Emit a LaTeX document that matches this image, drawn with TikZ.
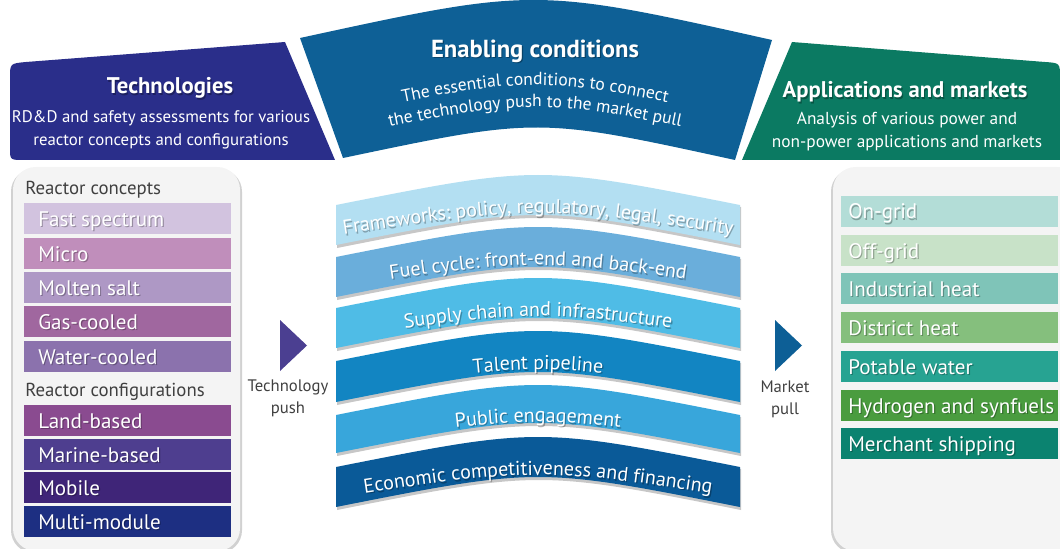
\documentclass[tikz,border=0pt]{standalone}
\usepackage{fontspec}
\setmainfont{PT Sans}
\usetikzlibrary{decorations.text}
\definecolor{techblue}{RGB}{42,46,138}
\definecolor{enabl}{RGB}{14,96,150}
\definecolor{appgreen}{RGB}{11,122,98}
\definecolor{panelgray}{RGB}{244,244,244}
\definecolor{labelgray}{RGB}{64,64,64}
\definecolor{c1}{RGB}{210,195,223}
\definecolor{c2}{RGB}{192,142,187}
\definecolor{c3}{RGB}{174,152,197}
\definecolor{c4}{RGB}{160,103,159}
\definecolor{c5}{RGB}{139,114,173}
\definecolor{c6}{RGB}{138,75,144}
\definecolor{c7}{RGB}{78,62,143}
\definecolor{c8}{RGB}{63,37,120}
\definecolor{c9}{RGB}{29,47,130}
\definecolor{a1}{RGB}{179,221,215}
\definecolor{a2}{RGB}{200,226,200}
\definecolor{a3}{RGB}{127,196,184}
\definecolor{a4}{RGB}{133,191,125}
\definecolor{a5}{RGB}{39,163,146}
\definecolor{a6}{RGB}{74,156,63}
\definecolor{a7}{RGB}{11,131,112}
\definecolor{b1}{RGB}{179,223,242}
\definecolor{b2}{RGB}{106,174,219}
\definecolor{b3}{RGB}{79,188,230}
\definecolor{b4}{RGB}{18,133,194}
\definecolor{b5}{RGB}{56,166,219}
\definecolor{b6}{RGB}{10,90,152}
\definecolor{pushc}{RGB}{75,63,145}
\definecolor{pullc}{RGB}{13,95,150}
\newcommand\bandfont{\fontsize{15}{17}\selectfont}
\newcommand\subfont{\fontsize{13.2}{16}\selectfont}
\tikzset{
  itemtxt/.style={anchor=base west, text=white, font=\fontsize{15.8}{18}\selectfont, inner sep=0pt},
  itemshadow/.style={itemtxt, text=black, opacity=0.28},
  grouplbl/.style={anchor=base west, text=labelgray, font=\fontsize{14.1}{16}\selectfont, inner sep=0pt},
  titletxt/.style={text=white, font=\bfseries\fontsize{17}{20}\selectfont, inner sep=0pt},
  subtxt/.style={text=white, font=\fontsize{12.6}{17.25}\selectfont, align=center, inner sep=0pt},
  flowlbl/.style={text=labelgray, font=\fontsize{12.5}{16.5}\selectfont, align=center, inner sep=0pt},
  panelbox/.style={fill=panelgray, rounded corners=17pt},
  panelshadow/.style={fill=black!18, rounded corners=17pt},
  bandshadow/.style={fill=black!22},
}
\begin{document}
\begin{tikzpicture}[x=0.75pt,y=-0.75pt]
\useasboundingbox (0,0) rectangle (1060,549);
% ---------------- headers
\fill[techblue] (335,160) -- (285,42) -- (26,62) .. controls (10,63.5) .. (10,78) -- (10,148) .. controls (10,160) .. (24,160) -- cycle;
\fill[enabl] (300,38) .. controls (535,-13) .. (772,40) -- (735,160) .. controls (538,117) .. (343,158) -- cycle;
\fill[appgreen] (742,160) -- (792,42) -- (1045,62) .. controls (1060,63) .. (1060,78) -- (1060,160) -- cycle;

\node[titletxt, text=black, opacity=0.3] (techtitles) at (171.2,89.5) {Technologies};
\node[titletxt] (techtitle) at (170,88) {Technologies};
\node[subtxt] (techsub) at (161,129.5) {RD\&D and safety assessments for various\\reactor concepts and configurations};
\node[titletxt, text=black, opacity=0.3, font=\bfseries\fontsize{18.5}{21}\selectfont] (enabtitles) at (536.2,52.5) {Enabling conditions};
\node[titletxt, font=\bfseries\fontsize{18.5}{21}\selectfont] (enabtitle) at (535,51) {Enabling conditions};
\path[decorate, decoration={text along path, text align=center, text color=white,
  text={|\subfont|The essential conditions to connect}}] (315,121) .. controls (535,73) .. (755,121);
\path[decorate, decoration={text along path, text align=center, text color=white,
  text={|\subfont|the technology push to the market pull}}] (315,143) .. controls (535,95) .. (755,143);
\node[titletxt, text=black, opacity=0.3] (apptitles) at (906.2,93.5) {Applications and markets};
\node[titletxt] (apptitle) at (905,92) {Applications and markets};
\node[subtxt, font=\fontsize{13}{17.25}\selectfont] (appsub) at (907,131.5) {Analysis of various power and\\non-power applications and markets};

% ---------------- panels
\fill[panelshadow] (11,169) rectangle (242,553);
\fill[panelbox] (13,167) rectangle (240,551);
\fill[panelshadow] (831,169) rectangle (1080,553);
\fill[panelbox] (833,167) rectangle (1080,551);

\node[grouplbl] (lblconcepts) at (25,195) {Reactor concepts};
\node[grouplbl] (lblconfigs) at (25,396) {Reactor configurations};

\foreach \y/\c/\t [count=\i] in {203/c1/Fast spectrum, 238/c2/Micro, 272/c3/Molten salt, 306/c4/Gas-cooled, 341/c5/Water-cooled, 405/c6/Land-based, 439/c7/Marine-based, 472/c8/Mobile, 506/c9/Multi-module}{
  \fill[\c] (24,\y) rectangle (231,\y+31);
  \node[itemshadow] (techs\i) at (39.2,\y+24.5) {\t};
  \node[itemtxt] (tech\i) at (38,\y+23) {\t};
}
\foreach \y/\c/\t [count=\i] in {196/a1/On-grid, 235/a2/Off-grid, 273/a3/Industrial heat, 312/a4/District heat, 351/a5/Potable water, 390/a6/Hydrogen and synfuels, 428/a7/Merchant shipping}{
  \fill[\c] (841,\y) rectangle (1058,\y+31);
  \node[itemshadow] (apps\i) at (849.2,\y+24.5) {\t};
  \node[itemtxt] (app\i) at (848,\y+23) {\t};
}

% ---------------- push / pull
\fill[pushc] (280,320) -- (280,371) -- (307,345.5) -- cycle;
\node[flowlbl] (pushlbl) at (288,398) {Technology\\push};
\fill[pullc] (775,320) -- (775,371) -- (802,345.5) -- cycle;
\node[flowlbl] (pulllbl) at (785,399.5) {Market\\pull};

% ---------------- enabling bands
\foreach \T/\B/\c/\t in {
  205/245/b1/{Frameworks: policy, regulatory, legal, security},
  257/297/b2/{Fuel cycle: front-end and back-end},
  308/348/b3/{Supply chain and infrastructure},
  361/402/b4/{Talent pipeline},
  415/453/b5/{Public engagement},
  467/507/b6/{Economic competitiveness and financing}}{
  \fill[bandshadow] (337,\T+2) .. controls (539,\T-38) .. (741,\T+2) -- (741,\B+3) .. controls (539,\B-37) .. (337,\B+3) -- cycle;
  \fill[\c] (336,\T) .. controls (538,\T-40) .. (740,\T) -- (740,\B) .. controls (538,\B-40) .. (336,\B) -- cycle;
  \pgfmathsetmacro\yb{(\T+\B)/2-20+7.5+9}
  \begin{scope}[opacity=0.28]
  \path[decorate, decoration={text along path, text align=center, text color=black,
    text/.expanded={|\noexpand\bandfont|\t}}] (319.2,\yb+18.5) .. controls (539.2,\yb-15.5) .. (759.2,\yb+18.5);
  \end{scope}
  \path[decorate, decoration={text along path, text align=center, text color=white,
    text/.expanded={|\noexpand\bandfont|\t}}] (318,\yb+17) .. controls (538,\yb-17) .. (758,\yb+17);
}
\end{tikzpicture}
\end{document}
